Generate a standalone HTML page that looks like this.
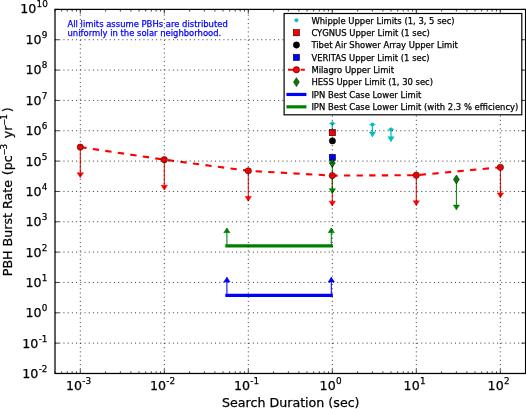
<!DOCTYPE html>
<html><head><meta charset="utf-8"><title>PBH Burst Rate Limits</title>
<style>html,body{margin:0;padding:0;background:#fff}svg{display:block}text{font-family:"DejaVu Sans","Liberation Sans",sans-serif;stroke-width:0.25px;stroke-linejoin:round}</style></head><body>
<div style="width:526px;height:409px;will-change:transform">
<svg width="526" height="409" viewBox="0 0 526 409">
<g fill="none" stroke-linecap="butt">
<line x1="332.3" y1="123.4" x2="332.3" y2="135.50" stroke="#00bfbf" stroke-width="1.25"/>
<line x1="372.4" y1="124.6" x2="372.4" y2="136.70" stroke="#00bfbf" stroke-width="1.25"/>
<line x1="391.0" y1="129.4" x2="391.0" y2="141.50" stroke="#00bfbf" stroke-width="1.25"/>
<line x1="80.3" y1="147.1" x2="80.3" y2="177.44" stroke="#ff0000" stroke-width="1.05"/>
<line x1="164.3" y1="159.7" x2="164.3" y2="190.04" stroke="#ff0000" stroke-width="1.05"/>
<line x1="248.3" y1="170.8" x2="248.3" y2="201.14" stroke="#ff0000" stroke-width="1.05"/>
<line x1="332.3" y1="175.6" x2="332.3" y2="205.94" stroke="#ff0000" stroke-width="1.05"/>
<line x1="416.3" y1="175.2" x2="416.3" y2="205.54" stroke="#ff0000" stroke-width="1.05"/>
<line x1="500.4" y1="167.3" x2="500.4" y2="197.64" stroke="#ff0000" stroke-width="1.05"/>
<line x1="332.3" y1="163.1" x2="332.3" y2="193.44" stroke="#008000" stroke-width="1.05"/>
<line x1="456.4" y1="179.5" x2="456.4" y2="209.84" stroke="#008000" stroke-width="1.05"/>
<line x1="226.9" y1="295.3" x2="226.9" y2="277.30" stroke="#0000ff" stroke-width="1.05"/>
<line x1="331.3" y1="295.3" x2="331.3" y2="277.30" stroke="#0000ff" stroke-width="1.05"/>
<line x1="226.9" y1="245.9" x2="226.9" y2="227.90" stroke="#008000" stroke-width="1.05"/>
<line x1="331.3" y1="245.9" x2="331.3" y2="227.90" stroke="#008000" stroke-width="1.05"/>
</g>
<circle cx="332.3" cy="123.4" r="1.73" fill="#00bfbf" stroke="#00bfbf" stroke-width="0.53"/>
<circle cx="372.4" cy="124.6" r="1.73" fill="#00bfbf" stroke="#00bfbf" stroke-width="0.53"/>
<circle cx="391.0" cy="129.4" r="1.73" fill="#00bfbf" stroke="#00bfbf" stroke-width="0.53"/>
<path d="M329.14 130.76 L332.30 135.50 L335.46 130.76 Z" fill="#00bfbf" stroke="#00bfbf" stroke-width="0.53" stroke-linejoin="miter"/>
<line x1="329.14" y1="123.4" x2="335.46" y2="123.4" stroke="#00bfbf" stroke-width="0.75"/>
<path d="M369.24 131.96 L372.40 136.70 L375.56 131.96 Z" fill="#00bfbf" stroke="#00bfbf" stroke-width="0.53" stroke-linejoin="miter"/>
<line x1="369.24" y1="124.6" x2="375.56" y2="124.6" stroke="#00bfbf" stroke-width="0.75"/>
<path d="M387.84 136.76 L391.00 141.50 L394.16 136.76 Z" fill="#00bfbf" stroke="#00bfbf" stroke-width="0.53" stroke-linejoin="miter"/>
<line x1="387.84" y1="129.4" x2="394.16" y2="129.4" stroke="#00bfbf" stroke-width="0.75"/>
<rect x="329.24" y="129.44" width="6.32" height="6.32" fill="#ff0000" stroke="#000" stroke-width="0.53"/>
<circle cx="332.4" cy="140.9" r="3.16" fill="#000" stroke="#000" stroke-width="0.53"/>
<rect x="329.24" y="154.34" width="6.32" height="6.32" fill="#0000ff" stroke="#000" stroke-width="0.53"/>
<polyline points="80.3,147.1 164.3,159.7 248.3,170.8 332.3,175.6 416.3,175.2 500.4,167.3" fill="none" stroke="#ff0000" stroke-width="2.11" stroke-dasharray="6.32 6.32" stroke-linejoin="round"/>
<circle cx="80.3" cy="147.1" r="3.16" fill="#ff0000" stroke="#000" stroke-width="0.53"/>
<circle cx="164.3" cy="159.7" r="3.16" fill="#ff0000" stroke="#000" stroke-width="0.53"/>
<circle cx="248.3" cy="170.8" r="3.16" fill="#ff0000" stroke="#000" stroke-width="0.53"/>
<circle cx="332.3" cy="175.6" r="3.16" fill="#ff0000" stroke="#000" stroke-width="0.53"/>
<circle cx="416.3" cy="175.2" r="3.16" fill="#ff0000" stroke="#000" stroke-width="0.53"/>
<circle cx="500.4" cy="167.3" r="3.16" fill="#ff0000" stroke="#000" stroke-width="0.53"/>
<path d="M77.14 172.70 L80.30 177.44 L83.46 172.70 Z" fill="#ff0000" stroke="#ff0000" stroke-width="0.53" stroke-linejoin="miter"/>
<path d="M161.14 185.30 L164.30 190.04 L167.46 185.30 Z" fill="#ff0000" stroke="#ff0000" stroke-width="0.53" stroke-linejoin="miter"/>
<path d="M245.14 196.40 L248.30 201.14 L251.46 196.40 Z" fill="#ff0000" stroke="#ff0000" stroke-width="0.53" stroke-linejoin="miter"/>
<path d="M329.14 201.20 L332.30 205.94 L335.46 201.20 Z" fill="#ff0000" stroke="#ff0000" stroke-width="0.53" stroke-linejoin="miter"/>
<path d="M413.14 200.80 L416.30 205.54 L419.46 200.80 Z" fill="#ff0000" stroke="#ff0000" stroke-width="0.53" stroke-linejoin="miter"/>
<path d="M497.24 192.90 L500.40 197.64 L503.56 192.90 Z" fill="#ff0000" stroke="#ff0000" stroke-width="0.53" stroke-linejoin="miter"/>
<line x1="329.14" y1="163.1" x2="335.46" y2="163.1" stroke="#008000" stroke-width="0.53"/>
<line x1="453.24" y1="179.5" x2="459.56" y2="179.5" stroke="#008000" stroke-width="0.53"/>
<path d="M332.30 158.63 L335.16 163.10 L332.30 167.57 L329.44 163.10 Z" fill="#008000" stroke="#000" stroke-width="0.53" stroke-linejoin="miter"/>
<path d="M456.40 175.03 L459.26 179.50 L456.40 183.97 L453.54 179.50 Z" fill="#008000" stroke="#000" stroke-width="0.53" stroke-linejoin="miter"/>
<path d="M329.14 188.70 L332.30 193.44 L335.46 188.70 Z" fill="#008000" stroke="#008000" stroke-width="0.53" stroke-linejoin="miter"/>
<path d="M453.24 205.10 L456.40 209.84 L459.56 205.10 Z" fill="#008000" stroke="#008000" stroke-width="0.53" stroke-linejoin="miter"/>
<line x1="226.9" y1="295.3" x2="331.3" y2="295.3" stroke="#0000ff" stroke-width="3.16" stroke-linecap="square"/>
<path d="M223.74 282.04 L226.90 277.30 L230.06 282.04 Z" fill="#0000ff" stroke="#0000ff" stroke-width="0.53" stroke-linejoin="miter"/>
<path d="M328.14 282.04 L331.30 277.30 L334.46 282.04 Z" fill="#0000ff" stroke="#0000ff" stroke-width="0.53" stroke-linejoin="miter"/>
<line x1="226.9" y1="245.9" x2="331.3" y2="245.9" stroke="#008000" stroke-width="3.16" stroke-linecap="square"/>
<path d="M223.74 232.64 L226.90 227.90 L230.06 232.64 Z" fill="#008000" stroke="#008000" stroke-width="0.53" stroke-linejoin="miter"/>
<path d="M328.14 232.64 L331.30 227.90 L334.46 232.64 Z" fill="#008000" stroke="#008000" stroke-width="0.53" stroke-linejoin="miter"/>
<g stroke="#000" stroke-width="0.76" stroke-dasharray="1.05 3.16" fill="none">
<line x1="80.30" y1="373.48" x2="80.30" y2="9.40"/>
<line x1="164.30" y1="373.48" x2="164.30" y2="9.40"/>
<line x1="248.30" y1="373.48" x2="248.30" y2="9.40"/>
<line x1="332.30" y1="373.48" x2="332.30" y2="9.40"/>
<line x1="416.30" y1="373.48" x2="416.30" y2="9.40"/>
<line x1="500.30" y1="373.48" x2="500.30" y2="9.40"/>
<line x1="55.01" y1="343.14" x2="525.59" y2="343.14"/>
<line x1="55.01" y1="312.80" x2="525.59" y2="312.80"/>
<line x1="55.01" y1="282.46" x2="525.59" y2="282.46"/>
<line x1="55.01" y1="252.12" x2="525.59" y2="252.12"/>
<line x1="55.01" y1="221.78" x2="525.59" y2="221.78"/>
<line x1="55.01" y1="191.44" x2="525.59" y2="191.44"/>
<line x1="55.01" y1="161.10" x2="525.59" y2="161.10"/>
<line x1="55.01" y1="130.76" x2="525.59" y2="130.76"/>
<line x1="55.01" y1="100.42" x2="525.59" y2="100.42"/>
<line x1="55.01" y1="70.08" x2="525.59" y2="70.08"/>
<line x1="55.01" y1="39.74" x2="525.59" y2="39.74"/>
</g>
<g stroke="#000" stroke-width="0.76" fill="none">
<line x1="80.30" y1="373.48" x2="80.30" y2="369.26"/><line x1="80.30" y1="9.40" x2="80.30" y2="13.62"/>
<line x1="164.30" y1="373.48" x2="164.30" y2="369.26"/><line x1="164.30" y1="9.40" x2="164.30" y2="13.62"/>
<line x1="248.30" y1="373.48" x2="248.30" y2="369.26"/><line x1="248.30" y1="9.40" x2="248.30" y2="13.62"/>
<line x1="332.30" y1="373.48" x2="332.30" y2="369.26"/><line x1="332.30" y1="9.40" x2="332.30" y2="13.62"/>
<line x1="416.30" y1="373.48" x2="416.30" y2="369.26"/><line x1="416.30" y1="9.40" x2="416.30" y2="13.62"/>
<line x1="500.30" y1="373.48" x2="500.30" y2="369.26"/><line x1="500.30" y1="9.40" x2="500.30" y2="13.62"/>
<line x1="55.01" y1="373.48" x2="55.01" y2="371.37"/><line x1="55.01" y1="9.40" x2="55.01" y2="11.51"/>
<line x1="61.66" y1="373.48" x2="61.66" y2="371.37"/><line x1="61.66" y1="9.40" x2="61.66" y2="11.51"/>
<line x1="67.29" y1="373.48" x2="67.29" y2="371.37"/><line x1="67.29" y1="9.40" x2="67.29" y2="11.51"/>
<line x1="72.16" y1="373.48" x2="72.16" y2="371.37"/><line x1="72.16" y1="9.40" x2="72.16" y2="11.51"/>
<line x1="76.46" y1="373.48" x2="76.46" y2="371.37"/><line x1="76.46" y1="9.40" x2="76.46" y2="11.51"/>
<line x1="105.59" y1="373.48" x2="105.59" y2="371.37"/><line x1="105.59" y1="9.40" x2="105.59" y2="11.51"/>
<line x1="120.38" y1="373.48" x2="120.38" y2="371.37"/><line x1="120.38" y1="9.40" x2="120.38" y2="11.51"/>
<line x1="130.87" y1="373.48" x2="130.87" y2="371.37"/><line x1="130.87" y1="9.40" x2="130.87" y2="11.51"/>
<line x1="139.01" y1="373.48" x2="139.01" y2="371.37"/><line x1="139.01" y1="9.40" x2="139.01" y2="11.51"/>
<line x1="145.66" y1="373.48" x2="145.66" y2="371.37"/><line x1="145.66" y1="9.40" x2="145.66" y2="11.51"/>
<line x1="151.29" y1="373.48" x2="151.29" y2="371.37"/><line x1="151.29" y1="9.40" x2="151.29" y2="11.51"/>
<line x1="156.16" y1="373.48" x2="156.16" y2="371.37"/><line x1="156.16" y1="9.40" x2="156.16" y2="11.51"/>
<line x1="160.46" y1="373.48" x2="160.46" y2="371.37"/><line x1="160.46" y1="9.40" x2="160.46" y2="11.51"/>
<line x1="189.59" y1="373.48" x2="189.59" y2="371.37"/><line x1="189.59" y1="9.40" x2="189.59" y2="11.51"/>
<line x1="204.38" y1="373.48" x2="204.38" y2="371.37"/><line x1="204.38" y1="9.40" x2="204.38" y2="11.51"/>
<line x1="214.87" y1="373.48" x2="214.87" y2="371.37"/><line x1="214.87" y1="9.40" x2="214.87" y2="11.51"/>
<line x1="223.01" y1="373.48" x2="223.01" y2="371.37"/><line x1="223.01" y1="9.40" x2="223.01" y2="11.51"/>
<line x1="229.66" y1="373.48" x2="229.66" y2="371.37"/><line x1="229.66" y1="9.40" x2="229.66" y2="11.51"/>
<line x1="235.29" y1="373.48" x2="235.29" y2="371.37"/><line x1="235.29" y1="9.40" x2="235.29" y2="11.51"/>
<line x1="240.16" y1="373.48" x2="240.16" y2="371.37"/><line x1="240.16" y1="9.40" x2="240.16" y2="11.51"/>
<line x1="244.46" y1="373.48" x2="244.46" y2="371.37"/><line x1="244.46" y1="9.40" x2="244.46" y2="11.51"/>
<line x1="273.59" y1="373.48" x2="273.59" y2="371.37"/><line x1="273.59" y1="9.40" x2="273.59" y2="11.51"/>
<line x1="288.38" y1="373.48" x2="288.38" y2="371.37"/><line x1="288.38" y1="9.40" x2="288.38" y2="11.51"/>
<line x1="298.87" y1="373.48" x2="298.87" y2="371.37"/><line x1="298.87" y1="9.40" x2="298.87" y2="11.51"/>
<line x1="307.01" y1="373.48" x2="307.01" y2="371.37"/><line x1="307.01" y1="9.40" x2="307.01" y2="11.51"/>
<line x1="313.66" y1="373.48" x2="313.66" y2="371.37"/><line x1="313.66" y1="9.40" x2="313.66" y2="11.51"/>
<line x1="319.29" y1="373.48" x2="319.29" y2="371.37"/><line x1="319.29" y1="9.40" x2="319.29" y2="11.51"/>
<line x1="324.16" y1="373.48" x2="324.16" y2="371.37"/><line x1="324.16" y1="9.40" x2="324.16" y2="11.51"/>
<line x1="328.46" y1="373.48" x2="328.46" y2="371.37"/><line x1="328.46" y1="9.40" x2="328.46" y2="11.51"/>
<line x1="357.59" y1="373.48" x2="357.59" y2="371.37"/><line x1="357.59" y1="9.40" x2="357.59" y2="11.51"/>
<line x1="372.38" y1="373.48" x2="372.38" y2="371.37"/><line x1="372.38" y1="9.40" x2="372.38" y2="11.51"/>
<line x1="382.87" y1="373.48" x2="382.87" y2="371.37"/><line x1="382.87" y1="9.40" x2="382.87" y2="11.51"/>
<line x1="391.01" y1="373.48" x2="391.01" y2="371.37"/><line x1="391.01" y1="9.40" x2="391.01" y2="11.51"/>
<line x1="397.66" y1="373.48" x2="397.66" y2="371.37"/><line x1="397.66" y1="9.40" x2="397.66" y2="11.51"/>
<line x1="403.29" y1="373.48" x2="403.29" y2="371.37"/><line x1="403.29" y1="9.40" x2="403.29" y2="11.51"/>
<line x1="408.16" y1="373.48" x2="408.16" y2="371.37"/><line x1="408.16" y1="9.40" x2="408.16" y2="11.51"/>
<line x1="412.46" y1="373.48" x2="412.46" y2="371.37"/><line x1="412.46" y1="9.40" x2="412.46" y2="11.51"/>
<line x1="441.59" y1="373.48" x2="441.59" y2="371.37"/><line x1="441.59" y1="9.40" x2="441.59" y2="11.51"/>
<line x1="456.38" y1="373.48" x2="456.38" y2="371.37"/><line x1="456.38" y1="9.40" x2="456.38" y2="11.51"/>
<line x1="466.87" y1="373.48" x2="466.87" y2="371.37"/><line x1="466.87" y1="9.40" x2="466.87" y2="11.51"/>
<line x1="475.01" y1="373.48" x2="475.01" y2="371.37"/><line x1="475.01" y1="9.40" x2="475.01" y2="11.51"/>
<line x1="481.66" y1="373.48" x2="481.66" y2="371.37"/><line x1="481.66" y1="9.40" x2="481.66" y2="11.51"/>
<line x1="487.29" y1="373.48" x2="487.29" y2="371.37"/><line x1="487.29" y1="9.40" x2="487.29" y2="11.51"/>
<line x1="492.16" y1="373.48" x2="492.16" y2="371.37"/><line x1="492.16" y1="9.40" x2="492.16" y2="11.51"/>
<line x1="496.46" y1="373.48" x2="496.46" y2="371.37"/><line x1="496.46" y1="9.40" x2="496.46" y2="11.51"/>
<line x1="525.59" y1="373.48" x2="525.59" y2="371.37"/><line x1="525.59" y1="9.40" x2="525.59" y2="11.51"/>
<line x1="55.01" y1="373.48" x2="59.23" y2="373.48"/><line x1="525.59" y1="373.48" x2="521.37" y2="373.48"/>
<line x1="55.01" y1="343.14" x2="59.23" y2="343.14"/><line x1="525.59" y1="343.14" x2="521.37" y2="343.14"/>
<line x1="55.01" y1="312.80" x2="59.23" y2="312.80"/><line x1="525.59" y1="312.80" x2="521.37" y2="312.80"/>
<line x1="55.01" y1="282.46" x2="59.23" y2="282.46"/><line x1="525.59" y1="282.46" x2="521.37" y2="282.46"/>
<line x1="55.01" y1="252.12" x2="59.23" y2="252.12"/><line x1="525.59" y1="252.12" x2="521.37" y2="252.12"/>
<line x1="55.01" y1="221.78" x2="59.23" y2="221.78"/><line x1="525.59" y1="221.78" x2="521.37" y2="221.78"/>
<line x1="55.01" y1="191.44" x2="59.23" y2="191.44"/><line x1="525.59" y1="191.44" x2="521.37" y2="191.44"/>
<line x1="55.01" y1="161.10" x2="59.23" y2="161.10"/><line x1="525.59" y1="161.10" x2="521.37" y2="161.10"/>
<line x1="55.01" y1="130.76" x2="59.23" y2="130.76"/><line x1="525.59" y1="130.76" x2="521.37" y2="130.76"/>
<line x1="55.01" y1="100.42" x2="59.23" y2="100.42"/><line x1="525.59" y1="100.42" x2="521.37" y2="100.42"/>
<line x1="55.01" y1="70.08" x2="59.23" y2="70.08"/><line x1="525.59" y1="70.08" x2="521.37" y2="70.08"/>
<line x1="55.01" y1="39.74" x2="59.23" y2="39.74"/><line x1="525.59" y1="39.74" x2="521.37" y2="39.74"/>
<line x1="55.01" y1="9.40" x2="59.23" y2="9.40"/><line x1="525.59" y1="9.40" x2="521.37" y2="9.40"/>
</g>
<rect x="55.01" y="9.40" width="470.57" height="364.08" fill="none" stroke="#000" stroke-width="1.25"/>
<g fill="#0000ff" stroke="#0000ff" stroke-width="0.15" style="stroke-width:0.15px" font-size="8.43px"><text x="67.5" y="26.6">All limits assume PBHs are distributed</text><text x="67.5" y="35.9">uniformly in the solar neighborhood.</text></g>
<rect x="284.1" y="13.5" width="237.70" height="101.30" fill="#fff" stroke="#000" stroke-width="1.2"/>
<circle cx="296.432" cy="20.3" r="1.73" fill="#00bfbf" stroke="#00bfbf" stroke-width="0.53"/>
<rect x="293.27" y="29.50" width="6.32" height="6.32" fill="#ff0000" stroke="#000" stroke-width="0.53"/>
<circle cx="296.432" cy="45.019999999999996" r="3.16" fill="#000" stroke="#000" stroke-width="0.53"/>
<rect x="293.27" y="54.22" width="6.32" height="6.32" fill="#0000ff" stroke="#000" stroke-width="0.53"/>
<line x1="288.00" y1="69.74" x2="304.86" y2="69.74" stroke="#ff0000" stroke-width="2.11" stroke-dasharray="6.32 6.32"/>
<circle cx="296.432" cy="69.74" r="3.16" fill="#ff0000" stroke="#000" stroke-width="0.53"/>
<path d="M296.43 77.63 L299.29 82.10 L296.43 86.57 L293.57 82.10 Z" fill="#008000" stroke="#000" stroke-width="0.53" stroke-linejoin="miter"/>
<line x1="288.00" y1="94.46" x2="304.86" y2="94.46" stroke="#0000ff" stroke-width="3.16" stroke-linecap="square"/>
<line x1="288.00" y1="106.82" x2="304.86" y2="106.82" stroke="#008000" stroke-width="3.16" stroke-linecap="square"/>
<g fill="#000" stroke="#000" font-size="8.43px">
<text x="311.4" y="23.50">Whipple Upper Limits (1, 3, 5 sec)</text>
<text x="311.4" y="35.86">CYGNUS Upper Limit (1 sec)</text>
<text x="311.4" y="48.22">Tibet Air Shower Array Upper Limit</text>
<text x="311.4" y="60.58">VERITAS Upper Limit (1 sec)</text>
<text x="311.4" y="72.94">Milagro Upper Limit</text>
<text x="311.4" y="85.30">HESS Upper Limit (1, 30 sec)</text>
<text x="311.4" y="97.66">IPN Best Case Lower Limit</text>
<text x="311.4" y="110.02">IPN Best Case Lower Limit (with 2.3 % efficiency)</text>
</g>
<g fill="#000" stroke="#000">
<text x="66.00" y="389.60" font-size="12.65px">10</text><text x="82.35" y="383.60" font-size="8.85px">-3</text>
<text x="150.00" y="389.60" font-size="12.65px">10</text><text x="166.35" y="383.60" font-size="8.85px">-2</text>
<text x="234.00" y="389.60" font-size="12.65px">10</text><text x="250.35" y="383.60" font-size="8.85px">-1</text>
<text x="319.60" y="389.60" font-size="12.65px">10</text><text x="335.95" y="383.60" font-size="8.85px">0</text>
<text x="403.60" y="389.60" font-size="12.65px">10</text><text x="419.95" y="383.60" font-size="8.85px">1</text>
<text x="487.60" y="389.60" font-size="12.65px">10</text><text x="503.95" y="383.60" font-size="8.85px">2</text>
<text x="22.32" y="377.88" font-size="12.65px">10</text><text x="38.67" y="371.88" font-size="8.85px">-2</text>
<text x="22.32" y="347.54" font-size="12.65px">10</text><text x="38.67" y="341.54" font-size="8.85px">-1</text>
<text x="25.52" y="317.20" font-size="12.65px">10</text><text x="41.87" y="311.20" font-size="8.85px">0</text>
<text x="25.52" y="286.86" font-size="12.65px">10</text><text x="41.87" y="280.86" font-size="8.85px">1</text>
<text x="25.52" y="256.52" font-size="12.65px">10</text><text x="41.87" y="250.52" font-size="8.85px">2</text>
<text x="25.52" y="226.18" font-size="12.65px">10</text><text x="41.87" y="220.18" font-size="8.85px">3</text>
<text x="25.52" y="195.84" font-size="12.65px">10</text><text x="41.87" y="189.84" font-size="8.85px">4</text>
<text x="25.52" y="165.50" font-size="12.65px">10</text><text x="41.87" y="159.50" font-size="8.85px">5</text>
<text x="25.52" y="135.16" font-size="12.65px">10</text><text x="41.87" y="129.16" font-size="8.85px">6</text>
<text x="25.52" y="104.82" font-size="12.65px">10</text><text x="41.87" y="98.82" font-size="8.85px">7</text>
<text x="25.52" y="74.48" font-size="12.65px">10</text><text x="41.87" y="68.48" font-size="8.85px">8</text>
<text x="25.52" y="44.14" font-size="12.65px">10</text><text x="41.87" y="38.14" font-size="8.85px">9</text>
<text x="20.19" y="13.30" font-size="12.65px">10</text><text x="36.54" y="6.50" font-size="8.85px">10</text>
</g>
<text x="222.0" y="407.4" font-size="12.65px" fill="#000" stroke="#000">Search Duration (sec)</text>
<g transform="translate(11.6,276.2) rotate(-90)" fill="#000" stroke="#000">
<text x="0.00" y="0.00" font-size="12.65px" xml:space="preserve">PBH Burst Rate </text>
<text x="100.92" y="0.50" font-size="12.65px" xml:space="preserve">(</text>
<text x="105.89" y="0.00" font-size="12.65px" xml:space="preserve">pc</text>
<text x="120.86" y="-4.80" font-size="8.2px">−</text>
<text x="126.66" y="-4.80" font-size="8.85px">3</text>
<text x="134.01" y="0.00" font-size="12.65px" xml:space="preserve"> yr</text>
<text x="150.71" y="-4.80" font-size="8.2px">−</text>
<text x="156.51" y="-4.80" font-size="8.85px">1</text>
<text x="163.86" y="0.50" font-size="12.65px" xml:space="preserve">)</text>
</g>
</svg></div></body></html>
